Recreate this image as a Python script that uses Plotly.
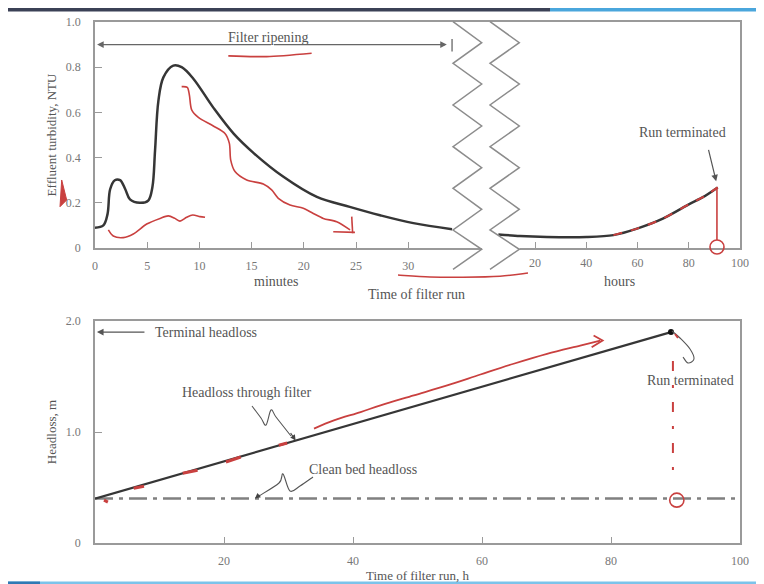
import plotly.graph_objects as go

# ---------------- data ----------------
# top panel, filter ripening period (minutes)
ripening_min = [0, 0.8, 1.2, 1.45, 1.9, 2.4, 2.9, 3.35, 4.3, 5.1, 5.5, 5.75, 6.07, 6.55,
                7.5, 8.3, 9.4, 11.35, 13.3, 15.2, 18.05, 21.25, 24.4, 27.3, 30.5, 34.2]
ripening_ntu = [0.09, 0.10, 0.15, 0.26, 0.30, 0.30, 0.26, 0.215, 0.20, 0.21, 0.27, 0.43, 0.65, 0.755,
                0.807, 0.80, 0.75, 0.62, 0.505, 0.42, 0.315, 0.226, 0.182, 0.145, 0.11, 0.083]
# top panel, rest of the run (hours)
run_h = [5.7, 14.1, 24.6, 40.2, 50.6, 60.1, 70.1, 80.2, 85.7, 91.3]
run_ntu = [0.060, 0.053, 0.049, 0.049, 0.057, 0.087, 0.131, 0.194, 0.226, 0.268]
run_end_h = 91.0

min_ticks = [0, 5, 10, 15, 20, 25, 30]
hour_ticks = [20, 40, 60, 80, 100]
ntu_ticks = [0, 0.2, 0.4, 0.6, 0.8, 1.0]
ntu_ticklabels = ["0", "0.2", "0.4", "0.6", "0.8", "1.0"]
ripening_end_min = 34.2
ripening_level = 0.9

# bottom panel, headloss (hours, m)
headloss_h = [0, 89.3]
headloss_m = [0.4, 1.9]
clean_bed_h = [0, 100]
clean_bed_m = [0.4, 0.4]
terminal_headloss = 1.9
hl_xticks = [20, 40, 60, 80, 100]
hl_yticks = [0, 1, 2]
hl_yticklabels = ["0", "1.0", "2.0"]

# red hand-drawn annotations (in axis units)
red_a_min = [12.77, 16.44, 20.75]
red_a_ntu = [0.850, 0.847, 0.862]
red_b_min = [8.30, 8.84, 9.04, 9.26, 9.90, 11.33, 12.45, 12.87, 13.0, 13.41, 14.53, 16.12,
             16.92, 17.56, 18.68, 19.95, 20.91, 21.87, 23.15, 24.43]
red_b_ntu = [0.714, 0.711, 0.677, 0.611, 0.578, 0.540, 0.507, 0.463, 0.389, 0.338, 0.301, 0.283,
             0.257, 0.220, 0.190, 0.176, 0.153, 0.131, 0.116, 0.080]
red_b_head1_min = [22.82, 24.9]
red_b_head1_ntu = [0.072, 0.069]
red_b_head2_min = [24.59, 24.68]
red_b_head2_ntu = [0.139, 0.065]
red_c_min = [1.28, 1.75, 2.71, 3.67, 4.95, 6.23, 7.02, 7.66, 8.14, 8.78, 9.36, 10.06, 10.54]
red_c_ntu = [0.080, 0.053, 0.046, 0.062, 0.106, 0.131, 0.142, 0.131, 0.119, 0.136, 0.146, 0.139, 0.136]
red_long_h = [33.95, 37.04, 41.18, 44.27, 49.43, 54.60, 59.75, 64.91, 70.08, 75.23, 78.33]
red_long_m = [1.031, 1.105, 1.180, 1.240, 1.330, 1.420, 1.518, 1.615, 1.704, 1.779, 1.824]
red_chev_h = [77.3, 78.7, 77.0]
red_chev_m = [1.869, 1.824, 1.764]
red_seg_h = [1.4, 2.0, None, 6.0, 7.6, None, 13.6, 15.9, None, 20.3, 22.6, None, 28.5, 29.8]
red_seg_m = [0.386, 0.368, None, 0.494, 0.512, None, 0.629, 0.656, None, 0.730, 0.775, None, 0.880, 0.901]
red_drop_h = [89.6, 89.6]
red_drop_m = [1.64, 0.55]

# ---------------- layout geometry ----------------
OFF = 8                      # default page margin of the html body
W, H = 764 - OFF, 584 - OFF
ML, MR, MT, MB = 95 - OFF, 24, 22 - OFF, 41
PW, PH = W - ML - MR, H - MT - MB
PL, PB = ML + OFF, MT + OFF + PH       # plot left / bottom on screen
TOP_DOM = [(PB - 248) / PH, 1.0]
BOT_DOM = [0.0, (PB - 321) / PH]

SERIF = "Liberation Serif, Times New Roman, serif"
AX = "#9a9a9a"
TXT = "#555555"
TICK = "#777777"
RED = "#c9403f"
DARK = "#363636"


def P(x, y):
    """screen pixel position -> paper coordinates (used only for decorations)"""
    return ((x - PL) / PW, (PB - y) / PH)


def smooth(pts, close=False):
    s = "M %.5f,%.5f" % pts[0]
    if len(pts) < 3:
        for p in pts[1:]:
            s += " L %.5f,%.5f" % p
        return s + (" Z" if close else "")
    n = len(pts)
    for i in range(n - 1):
        p0 = pts[i - 1] if i > 0 else pts[i]
        p1, p2 = pts[i], pts[i + 1]
        p3 = pts[i + 2] if i + 2 < n else p2
        c1 = (p1[0] + (p2[0] - p0[0]) / 6, p1[1] + (p2[1] - p0[1]) / 6)
        c2 = (p2[0] - (p3[0] - p1[0]) / 6, p2[1] - (p3[1] - p1[1]) / 6)
        s += " C %.5f,%.5f %.5f,%.5f %.5f,%.5f" % (c1 + c2 + p2)
    return s + (" Z" if close else "")


def poly(pts):
    return "M " + " L ".join("%.5f,%.5f" % p for p in pts)


fig = go.Figure()

# ---- top panel curves
fig.add_trace(go.Scatter(x=ripening_min, y=ripening_ntu, xaxis="x", yaxis="y", mode="lines",
                         line=dict(color=DARK, width=2.5, shape="spline", smoothing=1.0)))
fig.add_trace(go.Scatter(x=run_h, y=run_ntu, xaxis="x2", yaxis="y", mode="lines",
                         line=dict(color=DARK, width=2.5, shape="spline", smoothing=0.8)))
fig.add_trace(go.Scatter(x=run_h[4:], y=run_ntu[4:], xaxis="x2", yaxis="y", mode="lines",
                         line=dict(color=RED, width=2, dash="dash", shape="spline", smoothing=0.8)))
fig.add_trace(go.Scatter(x=[run_end_h, run_end_h], y=[run_ntu[-1], 0.035], xaxis="x2", yaxis="y",
                         mode="lines", line=dict(color=RED, width=1.6)))
for xs, ys in [(red_a_min, red_a_ntu), (red_b_min, red_b_ntu), (red_b_head1_min, red_b_head1_ntu),
               (red_b_head2_min, red_b_head2_ntu), (red_c_min, red_c_ntu)]:
    fig.add_trace(go.Scatter(x=xs, y=ys, xaxis="x", yaxis="y", mode="lines",
                             line=dict(color=RED, width=1.6, shape="spline", smoothing=0.8)))

# ---- bottom panel
fig.add_trace(go.Scatter(x=clean_bed_h, y=clean_bed_m, xaxis="x3", yaxis="y2", mode="lines",
                         line=dict(color="#808080", width=2.5, dash="18px,6px,4px,6px")))
fig.add_trace(go.Scatter(x=headloss_h, y=headloss_m, xaxis="x3", yaxis="y2", mode="lines",
                         line=dict(color=DARK, width=2.2)))
fig.add_trace(go.Scatter(x=headloss_h[-1:], y=headloss_m[-1:], xaxis="x3", yaxis="y2", mode="markers",
                         marker=dict(color="#111", size=6)))
fig.add_trace(go.Scatter(x=red_seg_h, y=red_seg_m, xaxis="x3", yaxis="y2", mode="lines",
                         line=dict(color=RED, width=3)))
fig.add_trace(go.Scatter(x=red_long_h, y=red_long_m, xaxis="x3", yaxis="y2", mode="lines",
                         line=dict(color=RED, width=1.8, shape="spline")))
fig.add_trace(go.Scatter(x=red_chev_h, y=red_chev_m, xaxis="x3", yaxis="y2", mode="lines",
                         line=dict(color=RED, width=1.8)))
fig.add_trace(go.Scatter(x=red_drop_h, y=red_drop_m, xaxis="x3", yaxis="y2", mode="lines",
                         line=dict(color=RED, width=2, dash="10px,14px,3px,14px")))

axis_common = dict(showgrid=False, zeroline=False, ticks="inside", tickcolor=AX, tickwidth=1.2,
                   automargin=False, tickfont=dict(family=SERIF, size=12, color=TICK))

fig.update_layout(
    width=W, height=H, margin=dict(l=ML, r=MR, t=MT, b=MB),
    paper_bgcolor="white", plot_bgcolor="white", showlegend=False,
    font=dict(family=SERIF, color=TXT),
    xaxis=dict(domain=[0, 1], anchor="y", range=[0, PW / 10.44], tickmode="array", tickvals=min_ticks,
               showline=True, mirror=True, linecolor=AX, linewidth=1.5, ticklen=6,
               ticklabelstandoff=6, **axis_common),
    xaxis2=dict(overlaying="x", anchor="y", side="bottom", range=[20 - (535 - PL) / 2.5625, 100],
                tickmode="array", tickvals=hour_ticks, showline=False, ticklen=6,
                ticklabelstandoff=6, **axis_common),
    yaxis=dict(domain=TOP_DOM, anchor="x", range=[0, 1.0], tickmode="array", tickvals=ntu_ticks,
               ticktext=ntu_ticklabels, showline=True, mirror=True, linecolor=AX, linewidth=1.5,
               ticklen=7, ticklabelstandoff=10,
               title=dict(text="Effluent turbidity, NTU", standoff=6,
                          font=dict(family=SERIF, size=13, color=TXT)), **axis_common),
    xaxis3=dict(domain=[0, 1], anchor="y2", range=[0, 100], tickmode="array", tickvals=hl_xticks,
                showline=True, mirror=True, linecolor=AX, linewidth=1.5, ticklen=6, ticklabelstandoff=6,
                title=dict(text="Time of filter run, h", standoff=4,
                           font=dict(family=SERIF, size=13, color=TXT)), **axis_common),
    yaxis2=dict(domain=BOT_DOM, anchor="x3", range=[0, 2.0], tickmode="array", tickvals=hl_yticks,
                ticktext=hl_yticklabels, showline=True, mirror=True, linecolor=AX, linewidth=1.5,
                ticklen=7, ticklabelstandoff=10,
                title=dict(text="Headloss, m", standoff=6,
                           font=dict(family=SERIF, size=13, color=TXT)), **axis_common),
)

ann = []
tf = dict(family=SERIF, size=14, color=TXT)
# top panel labels
ann.append(dict(x=16.6, y=0.932, xref="x", yref="y", text="Filter ripening", showarrow=False, font=tf))
for head in [0.2, ripening_end_min - 0.5]:
    ann.append(dict(x=head, y=ripening_level, xref="x", yref="y", ax=17.0, ay=ripening_level,
                    axref="x", ayref="y", text="", showarrow=True, arrowhead=2, arrowsize=1.1,
                    arrowwidth=1.2, arrowcolor="#666"))
ann.append(dict(x=77.4, y=0.513, xref="x2", yref="y", text="Run terminated", showarrow=False, font=tf))
ann.append(dict(x=90.7, y=0.295, xref="x2", yref="y", ax=-8, ay=-33, text="", showarrow=True,
                arrowhead=2, arrowsize=1.1, arrowwidth=1.2, arrowcolor="#555"))
ann.append(dict(x=P(252, 0)[0], y=P(0, 281)[1], xref="paper", yref="paper", text="minutes",
                showarrow=False, font=tf))
ann.append(dict(x=P(637, 0)[0], y=P(0, 281)[1], xref="paper", yref="paper", text="hours",
                showarrow=False, font=tf))
ann.append(dict(x=P(416, 0)[0], y=P(0, 294)[1], xref="paper", yref="paper", text="Time of filter run",
                showarrow=False, font=tf))
# bottom panel labels
ann.append(dict(x=9.0, y=terminal_headloss, xref="x3", yref="y2", xanchor="left",
                text="Terminal headloss", showarrow=False, font=tf))
ann.append(dict(x=0.3, y=terminal_headloss, xref="x3", yref="y2", ax=7.9, ay=terminal_headloss,
                axref="x3", ayref="y2", text="", showarrow=True, arrowhead=2, arrowsize=1.1,
                arrowwidth=1.2, arrowcolor="#555"))
ann.append(dict(x=23.5, y=1.357, xref="x3", yref="y2", text="Headloss through filter",
                showarrow=False, font=tf))
ann.append(dict(x=31.1, y=0.924, xref="x3", yref="y2", ax=-6, ay=-9, text="", showarrow=True,
                arrowhead=2, arrowsize=1.0, arrowwidth=1.1, arrowcolor="#444"))
ann.append(dict(x=41.6, y=0.665, xref="x3", yref="y2", text="Clean bed headloss",
                showarrow=False, font=tf))
ann.append(dict(x=24.8, y=0.4, xref="x3", yref="y2", ax=6, ay=-5, text="", showarrow=True,
                arrowhead=2, arrowsize=1.0, arrowwidth=1.1, arrowcolor="#444"))
ann.append(dict(x=92.4, y=1.465, xref="x3", yref="y2", text="Run terminated",
                showarrow=False, font=tf))
fig.update_layout(annotations=ann)

shapes = []
# end bar of the filter-ripening arrow
shapes.append(dict(type="line", xref="x", yref="y", x0=ripening_end_min, x1=ripening_end_min,
                   y0=0.87, y1=0.925, line=dict(color="#666", width=1.3)))
# mask the bottom axis line between the break marks
shapes.append(dict(type="rect", xref="paper", yref="paper", x0=P(482, 0)[0], x1=P(519.5, 0)[0],
                   y0=P(0, 252)[1], y1=P(0, 245.5)[1], fillcolor="white", line=dict(width=0),
                   layer="above"))
# zig-zag axis break marks
zy = [21.7, 42.7, 63.3, 84.0, 105, 126, 146.7, 167.7, 188.3, 209.3, 230, 249.3, 269.3]
for xl, xr in [(453, 481.7), (490, 519.3)]:
    pts = [P(xl if i % 2 == 0 else xr, y) for i, y in enumerate(zy)]
    shapes.append(dict(type="path", xref="paper", yref="paper", path=poly(pts),
                       line=dict(color="#8c8c8c", width=1.5), layer="above"))
# leaders
leader = dict(type="path", xref="paper", yref="paper", line=dict(color="#555", width=1.1), layer="above")
shapes.append(dict(leader, path=smooth([P(252, 406), P(261, 418), P(266, 425), P(271, 410),
                                         P(276, 417), P(291, 436)])))
shapes.append(dict(leader, path=smooth([P(313, 477), P(300, 486), P(290, 491), P(283, 474),
                                         P(279, 483), P(259, 496)])))
shapes.append(dict(leader, path=smooth([P(672, 331), P(680, 338), P(690, 349), P(694, 359),
                                         P(688, 363), P(683, 357)])))
# red marks outside plot areas
shapes.append(dict(type="path", xref="paper", yref="paper",
                   path=poly([P(61.7, 180), P(66.7, 200), P(60, 206.7)]) + " Z",
                   fillcolor=RED, line=dict(color=RED, width=1)))
shapes.append(dict(type="path", xref="paper", yref="paper",
                   path=smooth([P(398, 275), P(430, 277), P(463, 277.3), P(500, 276.3), P(528, 273)]),
                   line=dict(color=RED, width=1.5)))
shapes.append(dict(type="circle", xref="paper", yref="paper", x0=P(710, 0)[0], x1=P(724, 0)[0],
                   y0=P(0, 254)[1], y1=P(0, 240)[1], line=dict(color=RED, width=1.6)))
shapes.append(dict(type="circle", xref="x3", yref="y2", x0=89.1, x1=91.3, y0=0.323, y1=0.449,
                   line=dict(color=RED, width=1.6)))
shapes.append(dict(type="line", xref="paper", yref="paper", x0=P(675, 0)[0], x1=P(678, 0)[0],
                   y0=P(0, 334)[1], y1=P(0, 338)[1], line=dict(color=RED, width=2)))
# slide decoration bars
shapes.append(dict(type="rect", xref="paper", yref="paper", x0=P(8, 0)[0], x1=P(550, 0)[0],
                   y0=P(0, 11.5)[1], y1=P(0, 8)[1], fillcolor="#3b4156", line=dict(width=0)))
shapes.append(dict(type="rect", xref="paper", yref="paper", x0=P(550, 0)[0], x1=P(764, 0)[0],
                   y0=P(0, 11.5)[1], y1=P(0, 8)[1], fillcolor="#4aa6dc", line=dict(width=0)))
shapes.append(dict(type="rect", xref="paper", yref="paper", x0=P(8, 0)[0], x1=P(764, 0)[0],
                   y0=P(0, 584)[1], y1=P(0, 581.5)[1], fillcolor="#7cc3ea", line=dict(width=0)))
shapes.append(dict(type="rect", xref="paper", yref="paper", x0=P(8, 0)[0], x1=P(40, 0)[0],
                   y0=P(0, 584)[1], y1=P(0, 581.5)[1], fillcolor="#2f79b4", line=dict(width=0)))
fig.update_layout(shapes=shapes)

fig.write_html("out.html")
